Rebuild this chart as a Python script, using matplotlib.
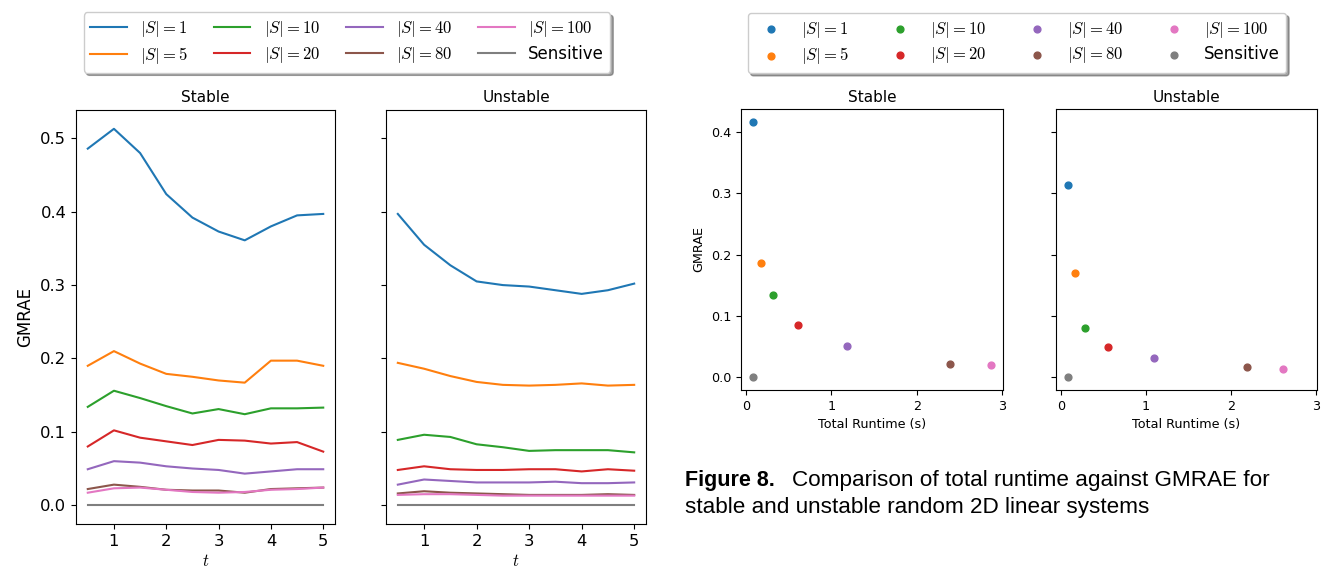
import matplotlib
matplotlib.use("Agg")
import matplotlib.pyplot as plt

plt.rcParams['mathtext.fontset'] = 'cm'

# time points of the line plots
t = [0.5, 1.0, 1.5, 2.0, 2.5, 3.0, 3.5, 4.0, 4.5, 5.0]

labels = [r'$|S| = 1$', r'$|S| = 5$', r'$|S| = 10$', r'$|S| = 20$',
          r'$|S| = 40$', r'$|S| = 80$', r'$|S| = 100$', 'Sensitive']
colors = ['C0', 'C1', 'C2', 'C3', 'C4', 'C5', 'C6', 'C7']

# GMRAE over t, stable systems
stable_s1 = [0.486, 0.513, 0.480, 0.424, 0.392, 0.373, 0.361, 0.380, 0.395, 0.397]
stable_s5 = [0.190, 0.210, 0.193, 0.179, 0.175, 0.170, 0.167, 0.197, 0.197, 0.190]
stable_s10 = [0.134, 0.156, 0.146, 0.135, 0.125, 0.131, 0.124, 0.132, 0.132, 0.133]
stable_s20 = [0.080, 0.102, 0.092, 0.087, 0.082, 0.089, 0.088, 0.084, 0.086, 0.073]
stable_s40 = [0.049, 0.060, 0.058, 0.053, 0.050, 0.048, 0.043, 0.046, 0.049, 0.049]
stable_s80 = [0.022, 0.028, 0.025, 0.021, 0.020, 0.020, 0.017, 0.022, 0.023, 0.024]
stable_s100 = [0.017, 0.023, 0.024, 0.021, 0.018, 0.017, 0.018, 0.021, 0.022, 0.024]
stable_sens = [0.0, 0.0, 0.0, 0.0, 0.0, 0.0, 0.0, 0.0, 0.0, 0.0]

# GMRAE over t, unstable systems
unstable_s1 = [0.397, 0.355, 0.327, 0.305, 0.300, 0.298, 0.293, 0.288, 0.293, 0.302]
unstable_s5 = [0.194, 0.186, 0.176, 0.168, 0.164, 0.163, 0.164, 0.166, 0.163, 0.164]
unstable_s10 = [0.089, 0.096, 0.093, 0.083, 0.079, 0.074, 0.075, 0.075, 0.075, 0.072]
unstable_s20 = [0.048, 0.053, 0.049, 0.048, 0.048, 0.049, 0.049, 0.046, 0.049, 0.047]
unstable_s40 = [0.028, 0.035, 0.033, 0.031, 0.031, 0.031, 0.032, 0.030, 0.030, 0.031]
unstable_s80 = [0.016, 0.019, 0.017, 0.016, 0.015, 0.014, 0.014, 0.014, 0.015, 0.014]
unstable_s100 = [0.014, 0.015, 0.015, 0.014, 0.013, 0.013, 0.013, 0.013, 0.013, 0.013]
unstable_sens = [0.0, 0.0, 0.0, 0.0, 0.0, 0.0, 0.0, 0.0, 0.0, 0.0]

# total runtime vs GMRAE
runtime_stable = [0.086, 0.180, 0.317, 0.614, 1.181, 2.393, 2.870, 0.086]
gmrae_stable = [0.417, 0.186, 0.135, 0.086, 0.051, 0.022, 0.020, 0.0]
runtime_unstable = [0.082, 0.168, 0.281, 0.551, 1.094, 2.184, 2.609, 0.086]
gmrae_unstable = [0.314, 0.170, 0.081, 0.049, 0.032, 0.016, 0.014, 0.0]

stable_lines = [stable_s1, stable_s5, stable_s10, stable_s20,
                stable_s40, stable_s80, stable_s100, stable_sens]
unstable_lines = [unstable_s1, unstable_s5, unstable_s10, unstable_s20,
                  unstable_s40, unstable_s80, unstable_s100, unstable_sens]

W, H = 1321, 569
fig = plt.figure(figsize=(W / 100, H / 100), dpi=100)


def box(x0, y0, x1, y1):
    # pixel box (top-left origin) -> figure fraction
    return [x0 / W, 1 - y1 / H, (x1 - x0) / W, (y1 - y0) / H]


# ---- left figure: GMRAE vs t ----
ax1 = fig.add_axes(box(76, 110, 335, 524))
ax2 = fig.add_axes(box(386, 110, 646, 524), sharey=ax1)

for ax, series, title in [(ax1, stable_lines, 'Stable'), (ax2, unstable_lines, 'Unstable')]:
    for vals, lab, col in zip(series, labels, colors):
        ax.plot(t, vals, color=col, label=lab, lw=1.5)
    ax.set_title(title, fontsize=11, pad=6)
    ax.tick_params(labelsize=11.8)
    ax.set_xlabel(r'$t$', fontsize=12, labelpad=2)
    ax.set_xticks([1, 2, 3, 4, 5])
ax1.set_yticks([0.0, 0.1, 0.2, 0.3, 0.4, 0.5])
ax1.set_ylabel('GMRAE', fontsize=12)
ax2.tick_params(labelleft=False)

h, l = ax1.get_legend_handles_labels()
fig.legend(h, l, ncol=4, loc='center', bbox_to_anchor=(347 / W, 1 - 42.5 / H),
           fontsize=12, shadow=True, columnspacing=1.55, handlelength=2.2,
           borderpad=0.4, labelspacing=0.35)

# ---- right figure: runtime vs GMRAE ----
ax3 = fig.add_axes(box(741, 109, 1003, 390))
ax4 = fig.add_axes(box(1056, 109, 1317, 390), sharex=ax3, sharey=ax3)

for ax, xs, ys, title in [(ax3, runtime_stable, gmrae_stable, 'Stable'),
                          (ax4, runtime_unstable, gmrae_unstable, 'Unstable')]:
    for x, y, lab, col in zip(xs, ys, labels, colors):
        ax.scatter([x], [y], color=col, s=24, label=lab)
    ax.set_title(title, fontsize=11, pad=5)
    ax.tick_params(labelsize=9.2)
    ax.set_xlabel('Total Runtime (s)', fontsize=9.2)
    ax.set_xticks([0, 1, 2, 3])
ax3.set_yticks([0.0, 0.1, 0.2, 0.3, 0.4])
ax3.set_ylabel('GMRAE', fontsize=9.2)
ax4.tick_params(labelleft=False)

h, l = ax3.get_legend_handles_labels()
fig.legend(h, l, ncol=4, loc='center', bbox_to_anchor=(1017 / W, 1 - 43 / H),
           fontsize=12, shadow=True, columnspacing=2.05, handlelength=2.0,
           borderpad=0.4, labelspacing=0.35, scatterpoints=1)

# ---- caption ----
cap_x, cap_y = 685 / W, 1 - 486 / H
bold = fig.text(cap_x, cap_y, 'Figure 8.', fontsize=15.5, fontweight='bold',
                family='Liberation Sans', va='baseline')
fig.canvas.draw()
bb = bold.get_window_extent(fig.canvas.get_renderer())
fig.text((bb.x1 + 17) / W, cap_y, 'Comparison of total runtime against GMRAE for',
         fontsize=16.2, family='Liberation Sans', va='baseline')
fig.text(cap_x, 1 - 513 / H, 'stable and unstable random 2D linear systems',
         fontsize=16.2, family='Liberation Sans', va='baseline')

fig.savefig('out.png', dpi=100)
